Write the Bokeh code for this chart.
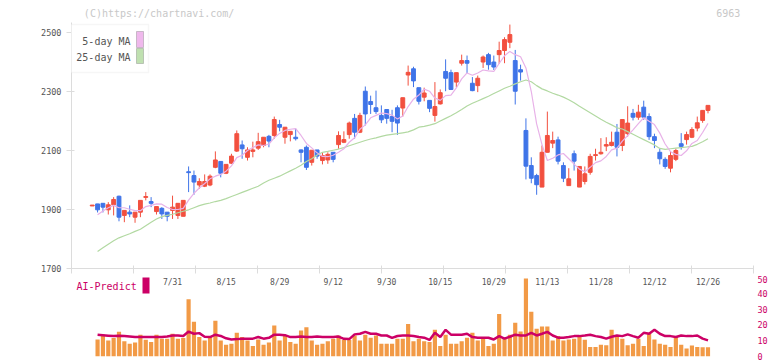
from bokeh.plotting import figure
from bokeh.layouts import column
from bokeh.models import Range1d, FixedTicker, Label, BoxAnnotation
from bokeh.embed import file_html
from bokeh.resources import INLINE
from bokeh.core.properties import value

# ---------------- data ----------------
candle_idx = list(range(1, 117))
opens = [1912,1919,1921,1899,1916,1945,1880,1891,1874,1891,
         1941,1927,1893,1904,1891,1897,1880,1877,2028,2015,
         1983,1979,1983,2043,2063,2023,2057,2098,2119,2077,
         2097,2108,2117,2148,2151,2188,2145,2154,2145,2102,
         2111,2060,2102,2066,2068,2094,2120,2128,2154,2209,
         2162,2301,2266,2245,2219,2239,2215,2245,2244,2356,
         2377,2313,2281,2270,2219,2258,2368,2364,2332,2396,
         2405,2328,2320,2400,2425,2400,2425,2439,2467,2405,
         2374,2168,2049,2015,1976,2094,2125,2136,2049,1981,
         2089,1976,1995,2026,2083,2089,2115,2117,2162,2117,
         2157,2226,2213,2247,2215,2147,2094,2070,2040,2070,
         2123,2137,2145,2176,2202,2236]
highs = [1915,1919,1921,1925,1942,1947,1897,1914,1891,1931,
         1959,1942,1910,1908,1891,1947,1921,1931,2046,2032,
         2006,2019,2019,2097,2063,2053,2089,2168,2134,2111,
         2130,2160,2145,2153,2215,2204,2179,2165,2174,2104,
         2117,2101,2102,2094,2094,2094,2165,2165,2198,2224,
         2228,2317,2286,2303,2253,2239,2238,2253,2279,2388,
         2384,2313,2313,2270,2332,2307,2409,2374,2364,2425,
         2422,2349,2354,2422,2431,2422,2469,2484,2527,2441,
         2391,2209,2077,2021,2117,2232,2164,2147,2060,2040,
         2100,2046,2046,2089,2106,2142,2145,2164,2190,2205,
         2250,2241,2255,2269,2226,2157,2106,2077,2098,2106,
         2159,2164,2179,2215,2236,2253]
lows = [1912,1890,1890,1883,1880,1860,1857,1874,1855,1874,
        1931,1908,1883,1868,1860,1868,1868,1877,1959,1950,
        1970,1976,1979,2040,2009,2020,2055,2095,2072,2066,
        2077,2102,2111,2111,2140,2165,2123,2131,2134,2060,
        2034,2049,2072,2053,2055,2060,2106,2125,2140,2140,
        2159,2185,2224,2224,2193,2191,2162,2153,2215,2320,
        2315,2256,2267,2230,2198,2256,2301,2305,2315,2388,
        2362,2301,2298,2380,2374,2373,2394,2396,2447,2256,
        2337,2002,1989,1950,1976,2094,2108,2053,1993,1981,
        2032,1976,1985,2018,2066,2086,2098,2114,2080,2098,
        2147,2202,2204,2204,2136,2108,2053,2038,2026,2064,
        2103,2120,2142,2165,2194,2226]
closes = [1915,1899,1908,1916,1934,1874,1897,1885,1891,1931,
          1944,1921,1910,1885,1877,1908,1921,1931,2025,1993,
          1995,1995,2013,2068,2023,2053,2081,2157,2106,2102,
          2102,2130,2145,2132,2205,2179,2179,2165,2140,2094,
          2043,2101,2081,2083,2087,2070,2151,2137,2193,2162,
          2219,2224,2256,2232,2204,2209,2199,2193,2279,2365,
          2336,2267,2295,2243,2249,2296,2345,2307,2364,2405,
          2396,2303,2345,2417,2391,2383,2439,2476,2493,2301,
          2366,2047,2006,1984,2094,2151,2134,2064,2006,2004,
          2064,2046,2021,2080,2086,2094,2120,2128,2111,2205,
          2193,2213,2230,2213,2147,2134,2072,2046,2083,2100,
          2114,2154,2171,2194,2236,2253]

# moving averages / lower panel start at the 2nd candle
line_idx = list(range(2, 117))
ma5 = [1882,1895,1906,1914,1906,1906,1901,1896,1896,
       1910,1914,1919,1918,1907,1900,1900,1904,1932,1955,
       1973,1988,2004,2013,2019,2030,2048,2076,2084,2100,
       2110,2119,2117,2122,2143,2158,2168,2172,2174,2151,
       2124,2109,2092,2080,2079,2084,2094,2106,2128,2143,
       2172,2187,2211,2219,2227,2225,2220,2207,2217,2249,
       2274,2288,2308,2301,2278,2270,2286,2288,2312,2343,
       2363,2355,2363,2373,2370,2368,2395,2421,2436,2425,
       2418,2380,2300,2190,2120,2066,2074,2085,2090,2072,
       2054,2037,2028,2043,2059,2065,2080,2102,2108,2132,
       2151,2170,2191,2211,2199,2188,2159,2122,2096,2087,
       2083,2099,2124,2134,2161,2192]
ma25 = [1758,1770,1782,1794,1804,1811,1818,1826,1833,
        1845,1857,1868,1876,1880,1884,1889,1894,1899,1906,
        1913,1918,1922,1927,1931,1937,1944,1951,1958,1965,
        1972,1979,1990,1999,2006,2013,2022,2031,2040,2050,
        2063,2072,2085,2094,2097,2101,2105,2110,2116,2122,
        2128,2134,2139,2143,2148,2152,2155,2157,2160,2163,
        2170,2179,2182,2186,2191,2200,2209,2218,2228,2239,
        2251,2260,2268,2276,2284,2293,2302,2311,2318,2326,
        2333,2339,2333,2320,2309,2302,2294,2288,2281,2272,
        2262,2250,2239,2228,2217,2206,2196,2187,2177,2173,
        2164,2155,2146,2137,2128,2119,2107,2104,2106,2108,
        2110,2112,2114,2121,2130,2140]
ai_bar = [10.8,13.8,10.2,11.7,15.6,9.6,8.1,8.8,13.8,
          10.6,9.2,13.8,11.3,11.3,14.4,11.3,11.7,36.3,22.0,
          12.3,10.2,12.9,22.7,10.2,7.5,8.1,15.0,12.3,10.2,
          6.7,10.8,7.5,8.8,19.6,10.2,12.9,9.2,8.1,16.4,
          18.5,10.2,7.5,8.1,9.6,11.3,13.3,10.4,10.4,13.3,
          10.2,13.8,11.9,13.3,8.1,8.1,8.1,11.3,11.3,20.6,
          9.6,11.3,9.6,9.2,16.9,6.7,13.8,8.1,8.1,9.6,
          11.9,15.0,10.2,11.3,6.7,8.1,26.9,11.3,13.8,21.3,
          15.8,49.4,28.3,17.5,19.0,19.0,10.2,12.9,10.2,10.8,
          11.3,12.9,10.6,6.0,6.0,7.5,7.1,16.9,12.9,11.3,
          7.1,8.1,11.3,6.7,15.0,10.8,8.1,7.5,6.0,12.9,
          7.5,5.0,7.0,6.0,5.8,5.8]
ai_line = [13.8,13.5,13.2,12.9,13.2,12.9,12.6,12.3,12.3,
           12.3,12.3,12.3,12.3,12.6,13.3,13.3,13.0,15.8,14.4,
           14.8,12.5,12.3,13.8,13.0,11.5,10.8,11.0,11.3,11.3,
           11.3,12.3,11.3,11.8,13.8,13.8,13.5,12.3,12.3,12.6,
           12.3,12.3,12.6,12.3,12.3,12.3,12.6,11.2,11.0,14.0,
           14.4,15.6,14.4,14.4,13.3,13.3,11.8,13.0,13.3,13.3,
           13.0,12.3,11.9,10.5,15.0,12.3,16.9,13.8,13.8,13.8,
           14.4,12.3,11.9,11.9,11.9,10.8,12.9,11.3,12.5,13.8,
           13.3,13.3,15.0,13.3,14.4,15.6,13.3,11.9,11.9,12.3,
           12.9,12.9,13.3,13.8,12.9,12.3,11.3,12.5,13.3,12.9,
           14.0,12.9,11.9,15.0,14.4,17.0,14.4,12.9,12.9,12.3,
           13.3,12.9,12.9,13.3,11.3,10.2]

date_labels = ["7/31", "8/15", "8/29", "9/12", "9/30", "10/15",
               "10/29", "11/13", "11/28", "12/12", "12/26"]
date_pos = [16, 26, 36, 46, 56, 66, 76, 86, 96, 106, 116]
price_ticks = [1700, 1900, 2100, 2300, 2500]
frame_ticks = [-2.87, 8.71, 20.29, 31.87, 43.45, 55.03, 66.61,
               78.19, 89.77, 101.35, 112.93, 124.5]
ai_ticks = [0, 10, 20, 30, 40, 50]
header_texts = ["(C)https://chartnavi.com/", "6963"]

UP = "#f2503f"
DOWN = "#3f74e8"
MONO = "DejaVu Sans Mono"
AXIS_GRAY = "#dcdcdc"
W = 772

colors = [UP if c >= o else DOWN for o, c in zip(opens, closes)]
body_top = [max(o, c) for o, c in zip(opens, closes)]
body_bot = [min(o, c) for o, c in zip(opens, closes)]


def clean(fig):
    fig.background_fill_color = "white"
    fig.border_fill_color = "white"
    fig.outline_line_color = None
    fig.xgrid.visible = False
    fig.ygrid.visible = False


# ---------------- header strip (watermark / code) ----------------
p0 = figure(width=W, height=20, x_range=Range1d(0, W), y_range=Range1d(0, 20),
            output_backend="svg", toolbar_location=None, title=None,
            x_axis_location=None, y_axis_location=None,
            min_border_left=0, min_border_right=0, min_border_top=0,
            min_border_bottom=0)
clean(p0)
p0.text(x=[14], y=[7.5], text=header_texts[:1], text_font=value(MONO),
        text_font_size="10px", text_color="#c8c8c8", text_align="left",
        text_baseline="middle")
p0.text(x=[757], y=[7.5], text=header_texts[1:], text_font=value(MONO),
        text_font_size="10px", text_color="#c8c8c8", text_align="right",
        text_baseline="middle")

# ---------------- main chart ----------------
xr = Range1d(-2.87, 124.5)
p = figure(width=W, height=255, x_range=xr, y_range=Range1d(1700, 2534),
           output_backend="svg", toolbar_location=None, title=None,
           min_border_left=71, min_border_right=19, min_border_top=2,
           min_border_bottom=7)
clean(p)

p.yaxis.ticker = FixedTicker(ticks=price_ticks)
p.yaxis.axis_line_color = AXIS_GRAY
p.yaxis.major_tick_line_color = AXIS_GRAY
p.yaxis.minor_tick_line_color = None
p.yaxis.major_tick_in = 3
p.yaxis.major_tick_out = 5
p.yaxis.major_label_standoff = 5
p.yaxis.major_label_text_font = MONO
p.yaxis.major_label_text_font_size = "8.5px"
p.yaxis.major_label_text_color = "#555555"

p.xaxis.ticker = FixedTicker(ticks=frame_ticks)
p.xaxis.axis_line_color = AXIS_GRAY
p.xaxis.major_tick_line_color = AXIS_GRAY
p.xaxis.minor_tick_line_color = None
p.xaxis.major_tick_in = 3
p.xaxis.major_tick_out = 5
p.xaxis.major_label_standoff = 0
p.xaxis.major_label_text_font_size = "0px"
p.xaxis.major_label_text_color = None

p.segment(x0=candle_idx, y0=lows, x1=candle_idx, y1=highs, color=colors, line_width=1)
p.vbar(x=candle_idx, width=0.72, top=body_top, bottom=body_bot,
       fill_color=colors, line_color=colors, line_width=1)

p.line(line_idx, ma25, color="#b2d9a2", line_width=1.2)
p.line(line_idx, ma5, color="#e8b2e8", line_width=1.2)

# legend (label left, swatch right)
def sbox(**kw):
    return BoxAnnotation(left_units="screen", right_units="screen",
                         top_units="screen", bottom_units="screen", **kw)

p.add_layout(sbox(left=-1, right=77, top=244, bottom=196, fill_color="white",
                  fill_alpha=1.0, line_color="#e0e0e0", line_width=1.5))
p.add_layout(sbox(left=65, right=72, top=237, bottom=221, fill_color="#efb8ec",
                  fill_alpha=1.0, line_color="#606060", line_width=1))
p.add_layout(sbox(left=65, right=72, top=220, bottom=205, fill_color="#bfe0b0",
                  fill_alpha=1.0, line_color="#606060", line_width=1))
for txt, yy in (("5-day MA", 227), ("25-day MA", 211)):
    p.add_layout(Label(x=59, y=yy, x_units="screen", y_units="screen", text=txt,
                       text_align="right", text_baseline="middle",
                       text_font=MONO, text_font_size="10px", text_color="#555555"))

# ---------------- lower panel ----------------
p2 = figure(width=W, height=86, x_range=xr, y_range=Range1d(0, 51.27),
            output_backend="svg", toolbar_location=None, title=None,
            x_axis_location=None, y_axis_location="right",
            min_border_left=71, min_border_right=19, min_border_top=0,
            min_border_bottom=5)
clean(p2)
p2.yaxis.ticker = FixedTicker(ticks=ai_ticks)
p2.yaxis.axis_line_color = None
p2.yaxis.major_tick_line_color = None
p2.yaxis.minor_tick_line_color = None
p2.yaxis.major_tick_in = 0
p2.yaxis.major_tick_out = 0
p2.yaxis.major_label_standoff = 4
p2.yaxis.major_label_text_font = MONO
p2.yaxis.major_label_text_font_size = "8.5px"
p2.yaxis.major_label_text_color = "#cc0066"

p2.vbar(x=line_idx, width=0.78, top=ai_bar, bottom=0, fill_color="#f29a46",
        line_color=None)
p2.line(line_idx, ai_line, color="#cc0066", line_width=2.5)

p2.text(x=date_pos, y=46.8, text=date_labels, text_font=value(MONO),
        text_font_size="8px", text_color="#555555", text_align="center",
        text_baseline="middle")

p2.add_layout(Label(x=5, y=70, x_units="screen", y_units="screen", text="AI-Predict",
                    text_align="left", text_baseline="middle", text_font=MONO,
                    text_font_size="10px", text_color="#cc0066"))
p2.add_layout(sbox(left=71, right=78, top=79, bottom=63, fill_color="#cc0066",
                   fill_alpha=1.0, line_color=None))

layout = column(p0, p, p2, spacing=0)
open("out.html", "w").write(file_html(layout, INLINE))
